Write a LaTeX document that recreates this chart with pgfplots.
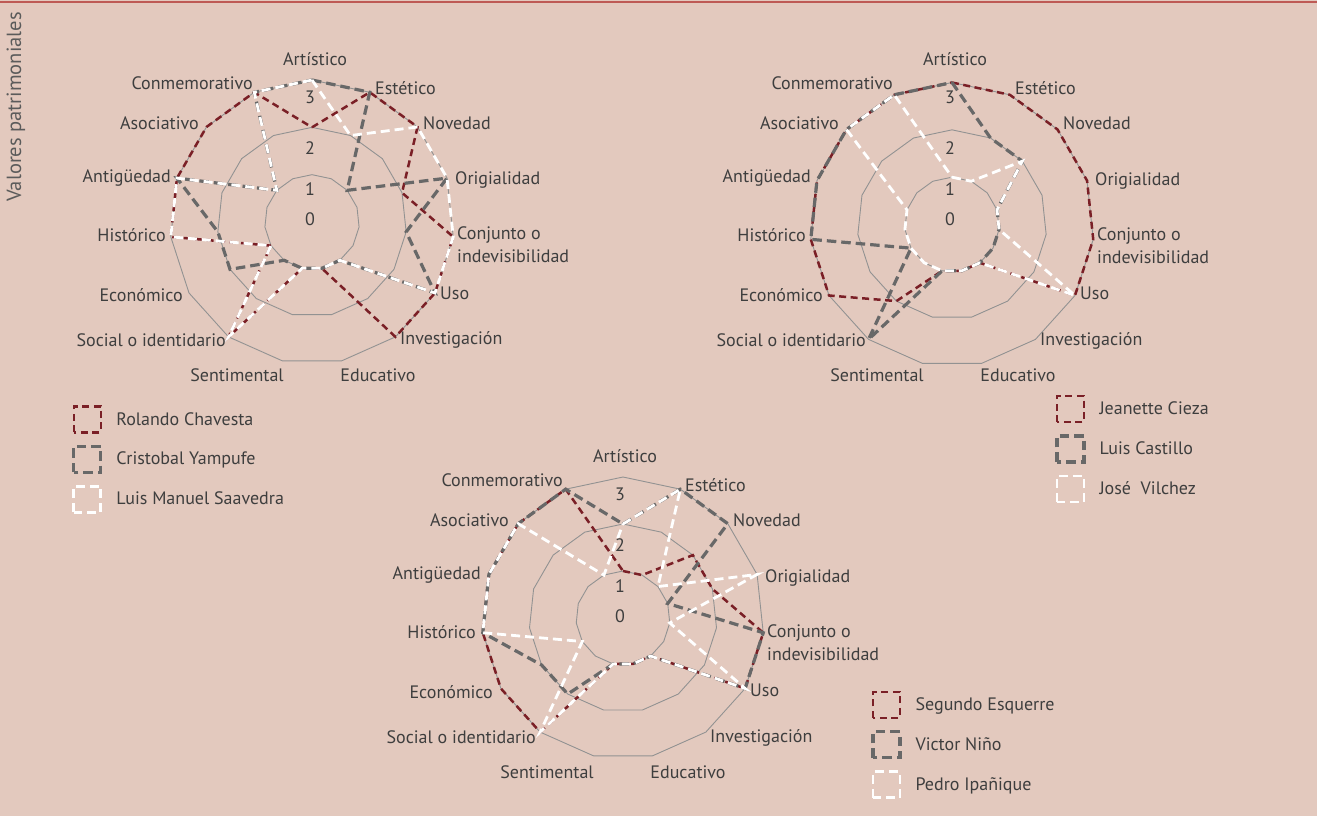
\documentclass[border=0pt]{standalone}
\usepackage{pgfplots}
\pgfplotsset{compat=1.18}
\usepackage{pgfplotstable}
\usepackage{fontspec}
\setmainfont{PT Sans}
\definecolor{bg}{HTML}{E3C9BE}
\definecolor{serred}{HTML}{7A1F26}
\definecolor{sergray}{HTML}{686868}
\definecolor{gridc}{HTML}{929292}
\definecolor{txt}{HTML}{3E3E3E}
\definecolor{rulec}{HTML}{BE5A55}
\newcommand{\lab}{\fontsize{18}{23}\selectfont}

% angle (deg, clockwise from Artistico at top), rings
\pgfplotstableread{
ang r1 r2 r3
90 1 2 3
66 1 2 3
42 1 2 3
18 1 2 3
-6 1 2 3
-30 1 2 3
-54 1 2 3
-78 1 2 3
-102 1 2 3
-126 1 2 3
-150 1 2 3
-174 1 2 3
-198 1 2 3
-222 1 2 3
-246 1 2 3
-270 1 2 3
}\rings

% Chart 1: a=Rolando Chavesta, b=Cristobal Yampufe, c=Luis Manuel Saavedra
\pgfplotstableread{
ang a b c
90 2 3 3
66 3 3 2
42 3 1 3
18 2 3 3
-6 3 2 3
-30 3 3 3
-54 3 1 1
-78 1 1 1
-102 1 1 1
-126 3 1 3
-150 1 2 1
-174 3 2 3
-198 3 3 3
-222 3 1 1
-246 3 3 3
-270 2 3 3
}\chartone

% Chart 2: a=Jeanette Cieza, b=Luis Castillo, c=Jose Vilchez
\pgfplotstableread{
ang a b c
90 3 3 1
66 3 2 1
42 3 2 2
18 3 1 1
-6 3 1 1
-30 3 1 3
-54 1 1 1
-78 1 1 1
-102 1 1 1
-126 2 3 1
-150 3 1 1
-174 3 3 1
-198 3 3 1
-222 3 3 3
-246 3 3 3
-270 3 3 1
}\charttwo

% Chart 3: a=Segundo Esquerre, b=Victor Nino, c=Pedro Ipanique
\pgfplotstableread{
ang a b c
90 1 2 2
66 1 3 3
42 2 3 1
18 2 1 3
-6 3 3 1
-30 3 3 3
-54 1 1 1
-78 1 1 1
-102 1 1 1
-126 3 2 3
-150 3 2 1
-174 3 3 3
-198 3 3 3
-222 3 3 3
-246 3 3 1
-270 1 2 2
}\chartthree

\pgfplotsset{
  radar/.style={
    scale only axis, hide axis, clip=false,
    xmin=-3, xmax=3, ymin=-3, ymax=3,
    anchor=center, data cs=polar,
    legend cell align=left,
    legend image code/.code={\draw[##1] (0pt,-13pt) rectangle (27pt,13pt);},
    legend style={draw=none, fill=none, anchor=north west, font=\lab,
      text=txt, row sep=11pt, inner sep=0pt,
      /tikz/every odd column/.append style={column sep=12pt}},
  },
  sred/.style={draw=serred, line width=2.5pt, dash pattern=on 7pt off 4.5pt, no markers},
  sgray/.style={draw=sergray, line width=3.2pt, dash pattern=on 9.5pt off 5pt, no markers},
  swhite/.style={draw=white, line width=2.8pt, dash pattern=on 9pt off 5pt, no markers},
  sgrid/.style={draw=gridc, line width=0.9pt, no markers, forget plot},
}

\newcommand{\radlabels}[2]{%
\begin{scope}[shift={(#1pt,-#2pt)}, every node/.style={text=txt, font=\lab, inner sep=0pt}]
\node[anchor=center] at (3pt,163pt) {Artístico};
\node[anchor=west] at (63pt,134pt) {Estético};
\node[anchor=west] at (111pt,99pt) {Novedad};
\node[anchor=west] at (143pt,42pt) {Origialidad};
\node[anchor=west, align=left] at (145pt,-23pt) {Conjunto o\\indevisibilidad};
\node[anchor=west] at (128pt,-71pt) {Uso};
\node[anchor=west] at (88pt,-118pt) {Investigación};
\node[anchor=center] at (66pt,-153pt) {Educativo};
\node[anchor=center] at (-75pt,-153pt) {Sentimental};
\node[anchor=east] at (-86pt,-118pt) {Social o identidario};
\node[anchor=east] at (-129pt,-73pt) {Económico};
\node[anchor=east] at (-146pt,-13pt) {Histórico};
\node[anchor=east] at (-141pt,44pt) {Antigüedad};
\node[anchor=east] at (-113pt,99pt) {Asociativo};
\node[anchor=east] at (-59pt,139pt) {Conmemorativo};
\node at (-2pt,125pt) {3};
\node at (-2pt,74pt) {2};
\node at (-2pt,33pt) {1};
\node at (-2pt,3pt) {0};
\end{scope}}

\begin{document}
\begin{tikzpicture}
\useasboundingbox (0,0) rectangle (1317pt,-816pt);
\fill[bg] (0,0) rectangle (1317pt,-816pt);
\draw[rulec, line width=2pt] (0,-2pt) -- (1317pt,-2pt);
\node[rotate=90, font=\fontsize{20.5}{24}\selectfont, text=txt!85] at (16pt,-107pt) {Valores patrimoniales};

% Chart 1
\begin{axis}[radar, at={(312pt,-222pt)}, width=284pt, height=284pt,
  legend style={at={(-0.345,-0.144)}}]
\addplot[sgrid] table[x=ang, y=r1] {\rings};
\addplot[sgrid] table[x=ang, y=r2] {\rings};
\addplot[sgrid] table[x=ang, y=r3] {\rings};
\addplot[sred] table[x=ang, y=a] {\chartone};
\addplot[sgray] table[x=ang, y=b] {\chartone};
\addplot[swhite] table[x=ang, y=c] {\chartone};
\legend{Rolando Chavesta, Cristobal Yampufe, Luis Manuel Saavedra}
\end{axis}
\radlabels{312}{222}

% Chart 2
\begin{axis}[radar, at={(952pt,-224.5pt)}, width=284pt, height=284pt,
  legend style={at={(0.863,-0.099)}}]
\addplot[sgrid] table[x=ang, y=r1] {\rings};
\addplot[sgrid] table[x=ang, y=r2] {\rings};
\addplot[sgrid] table[x=ang, y=r3] {\rings};
\addplot[sred] table[x=ang, y=a] {\charttwo};
\addplot[sgray] table[x=ang, y=b] {\charttwo};
\addplot[swhite] table[x=ang, y=c] {\charttwo};
\legend{Jeanette Cieza, Luis Castillo, José\ \ Vilchez}
\end{axis}
\radlabels{952}{222.5}

% Chart 3
\begin{axis}[radar, at={(623pt,-618pt)}, width=282pt, height=282pt,
  legend style={at={(1.380,0.243)}}]
\addplot[sgrid] table[x=ang, y=r1] {\rings};
\addplot[sgrid] table[x=ang, y=r2] {\rings};
\addplot[sgrid] table[x=ang, y=r3] {\rings};
\addplot[sred] table[x=ang, y=a] {\chartthree};
\addplot[sgray] table[x=ang, y=b] {\chartthree};
\addplot[swhite] table[x=ang, y=c] {\chartthree};
\legend{Segundo Esquerre, Victor Niño, Pedro Ipañique}
\end{axis}
\radlabels{622}{619.5}
\end{tikzpicture}
\end{document}
